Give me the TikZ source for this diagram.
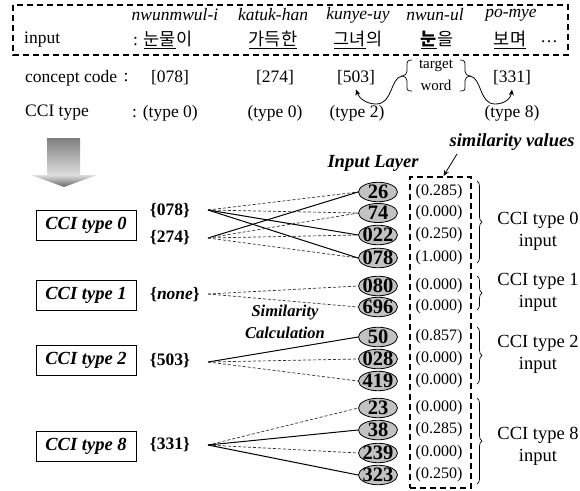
\documentclass[tikz,border=0pt]{standalone}
\usepackage{fontspec}
\setmainfont{Liberation Serif}
\newfontfamily\cjk{Noto Sans CJK KR}
\usetikzlibrary{arrows.meta,decorations.pathreplacing,shapes.geometric,calc}
\newcommand\myfs[1]{\fontsize{#1}{#1}\selectfont}
\definecolor{arrA}{gray}{0.5}
\definecolor{arrB}{gray}{0.87}
\definecolor{arrC}{gray}{0.4}
\definecolor{ellgray}{gray}{0.76}
\begin{document}
\begin{tikzpicture}[x=1pt,y=-1pt,
  txt/.style={inner sep=0pt,font=\myfs{17.5}},
  rom/.style={inner sep=0pt,font=\myfs{17.5}\itshape},
  box/.style={draw,line width=0.8,minimum width=100,minimum height=30,inner sep=0,font=\myfs{18.5}\bfseries\itshape},
  grp/.style={inner sep=0,font=\myfs{17.5}\bfseries},
  ell/.style={ellipse,draw,fill=ellgray,line width=0.8,minimum width=39,minimum height=17,inner sep=0,font=\myfs{20.5}\bfseries},
  val/.style={inner sep=0,font=\myfs{16}},
  lab/.style={inner sep=0,align=center,font=\fontsize{18.5}{22}\selectfont},
  bi/.style={inner sep=0,font=\myfs{18.5}\bfseries\itshape},
  dl/.style={dash pattern=on 3 off 2,line width=0.7,draw=black!80},
  sl/.style={line width=1.0},
  rbrace/.style={decorate,decoration={brace,amplitude=5},line width=0.7},
  curv/.style={-{Stealth[length=6,width=5]},line width=0.8}]
\useasboundingbox (0,0) rectangle (580,490);

% top dashed frame
\draw[line width=1.4,dash pattern=on 6 off 4] (13,5) rectangle (568,55);

% romanization
\node[rom] (r1) at (175,15) {nwunmwul-i};
\node[rom] (r2) at (273,15) {katuk-han};
\node[rom] (r3) at (358,15) {kunye-uy};
\node[rom] (r4) at (435,15) {nwun-ul};
\node[rom] (r5) at (511,15) {po-mye};

% korean row
\node[txt,anchor=west] (inp) at (24,40) {input};
\node[txt,anchor=west] (k1) at (133,40) {: {\cjk\underline{눈물}이}};
\node[txt] (k2) at (273,40) {\cjk\underline{가득한}};
\node[txt] (k3) at (358,40) {\cjk\underline{그녀}의};
\node[txt] (k4) at (437,40) {\cjk\underline{\bfseries 눈}을};
\node[txt] (k5) at (510,40) {\cjk\underline{보며}};
\node[txt] (k6) at (549,42) {\dots};

% concept code row
\node[txt,anchor=west] (cc) at (25,78) {concept code};
\node[txt] (ccol) at (126,78) {:};
\node[txt] (c078) at (170,78) {[078]};
\node[txt] (c274) at (275,78) {[274]};
\node[txt] (c503) at (356,78) {[503]};
\node[txt] (c331) at (512,78) {[331]};
\node[inner sep=0,font=\myfs{15}] (tw1) at (436,66) {target};
\node[inner sep=0,font=\myfs{15}] (tw2) at (436,85) {word};
\draw[line width=0.7] (412,60) .. controls (407,60) and (407,62) .. (407,66) -- (407,71) .. controls (407,74) and (405,76) .. (402,76) .. controls (405,76) and (407,78) .. (407,81) -- (407,86) .. controls (407,90) and (407,91) .. (412,91);
\draw[line width=0.7] (460,60) .. controls (465,60) and (465,62) .. (465,66) -- (465,71) .. controls (465,74) and (467,76) .. (470,76) .. controls (467,76) and (465,78) .. (465,81) -- (465,86) .. controls (465,90) and (465,91) .. (460,91);
\coordinate (lbt) at (402,76);
\coordinate (rbt) at (470,76);
\draw[curv] (lbt) .. controls (390,78) and (393,104) .. (376,104) .. controls (366,104) and (359,98) .. ($(c503.south)+(0,4)$);
\draw[curv] (rbt) .. controls (482,78) and (479,104) .. (495,104) .. controls (505,104) and (511,98) .. ($(c331.south)+(0,4)$);

% CCI type row
\node[txt,anchor=west] (ct) at (25,113) {CCI type};
\node[txt,anchor=west] (t0a) at (132,113) {: (type 0)};
\node[txt] (t0b) at (275,113) {(type 0)};
\node[txt] (t2) at (357,113) {(type 2)};
\node[txt] (t8) at (512,113) {(type 8)};

% gray arrow
\shade[top color=arrA,bottom color=arrB] (47,138) rectangle (80,175);
\shade[top color=arrB,bottom color=arrC] (31,175) -- (97,175) -- (64,187) -- cycle;

% left boxes
\node[box] (b0) at (86,225) {CCI type 0};
\node[box] (b1) at (86,295) {CCI type 1};
\node[box] (b2) at (86,360) {CCI type 2};
\node[box] (b8) at (86,446) {CCI type 8};

% groups
\node[grp] (g078) at (170,211) {\{078\}};
\node[grp] (g274) at (170,238) {\{274\}};
\node[grp] (gnone) at (175,295) {\{\textit{none}\}};
\node[grp] (g503) at (170,361) {\{503\}};
\node[grp] (g331) at (170,445) {\{331\}};
\coordinate (s078) at (208,210);
\coordinate (s274) at (208,238);
\coordinate (snone) at (208,294);
\coordinate (s503) at (208,362);
\coordinate (s331) at (208,445);

% input layer ellipses
\node[ell] (e26) at (378,192) {\makebox[0pt]{26}};
\node[ell] (e74) at (378,213) {\makebox[0pt]{74}};
\node[ell] (e022) at (378,235) {\makebox[0pt]{022}};
\node[ell] (e078) at (378,258) {\makebox[0pt]{078}};
\node[ell] (e080) at (378,286) {\makebox[0pt]{080}};
\node[ell] (e696) at (378,307) {\makebox[0pt]{696}};
\node[ell] (e50) at (378,337) {\makebox[0pt]{50}};
\node[ell] (e028) at (378,359) {\makebox[0pt]{028}};
\node[ell] (e419) at (378,381) {\makebox[0pt]{419}};
\node[ell] (e23) at (378,408) {\makebox[0pt]{23}};
\node[ell] (e38) at (378,430) {\makebox[0pt]{38}};
\node[ell] (e239) at (378,453) {\makebox[0pt]{239}};
\node[ell] (e323) at (378,475) {\makebox[0pt]{323}};

% values
\node[val] (v1) at (439,192) {(0.285)};
\node[val] (v2) at (439,213) {(0.000)};
\node[val] (v3) at (439,235) {(0.250)};
\node[val] (v4) at (439,258) {(1.000)};
\node[val] (v5) at (439,286) {(0.000)};
\node[val] (v6) at (439,307) {(0.000)};
\node[val] (v7) at (439,337) {(0.857)};
\node[val] (v8) at (439,359) {(0.000)};
\node[val] (v9) at (439,381) {(0.000)};
\node[val] (v10) at (439,408) {(0.000)};
\node[val] (v11) at (439,430) {(0.285)};
\node[val] (v12) at (439,453) {(0.000)};
\node[val] (v13) at (439,475) {(0.250)};
\node[draw,line width=2,dash pattern=on 6 off 4,minimum width=61,minimum height=311,inner sep=0] (vbox) at (440.5,332.5) {};

% connectors
\draw[dl] (s078) -- (e26.west);
\draw[dl] (s078) -- (e74.west);
\draw[sl] (s078) -- (e022.west);
\draw[sl] (s078) -- (e078.west);
\draw[sl] (s274) -- (e26.west);
\draw[dl] (s274) -- (e74.west);
\draw[dl] (s274) -- (e022.west);
\draw[dl] (s274) -- (e078.west);
\draw[dl] (snone) -- (e080.west);
\draw[dl] (snone) -- (e696.west);
\draw[sl] (s503) -- (e50.west);
\draw[dl] (s503) -- (e028.west);
\draw[dl] (s503) -- (e419.west);
\draw[dl] (s331) -- (e23.west);
\draw[sl] (s331) -- (e38.west);
\draw[dl] (s331) -- (e239.west);
\draw[sl] (s331) -- (e323.west);

% headings
\node[bi] (il) at (373,163) {Input Layer};
\node[bi] (simv) at (512,142) {similarity values};
\coordinate (sva) at (457,154);
\draw[-{Stealth[length=6,width=5]},line width=0.8] (sva) -- ($(vbox.north)+(3,0)$);
\node[inner sep=0,font=\myfs{16.5}\bfseries\itshape] (sc1) at (285,313) {Similarity};
\node[inner sep=0,font=\myfs{16.5}\bfseries\itshape] (sc2) at (285,333) {Calculation};

% right braces and labels
\draw[rbrace] (477,181) -- (477,263);
\draw[rbrace] (477,276) -- (477,310);
\draw[rbrace] (477,327) -- (477,384);
\draw[rbrace] (477,398) -- (477,484);
\node[lab] (l0) at (538,231) {CCI type 0\\input};
\node[lab] (l1) at (538,292) {CCI type 1\\input};
\node[lab] (l2) at (538,354) {CCI type 2\\input};
\node[lab] (l8) at (538,446) {CCI type 8\\input};
\end{tikzpicture}
\end{document}
